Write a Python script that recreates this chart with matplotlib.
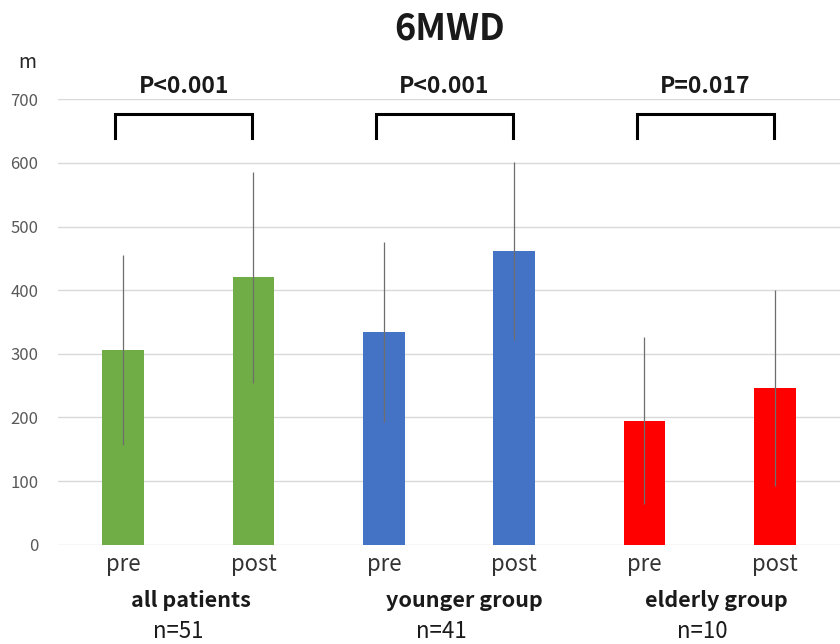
import matplotlib
matplotlib.use('Agg')
from matplotlib import pyplot as plt

# data
labels = ['pre', 'post', 'pre', 'post', 'pre', 'post']
means = [306, 420, 334, 462, 195, 246]
sds = [149, 166, 141, 140, 131, 154]
colors = ['#70AD47', '#70AD47', '#4472C4', '#4472C4', '#FF0000', '#FF0000']
groups = ['all patients', 'younger group', 'elderly group']
ns = ['n=51', 'n=41', 'n=10']
pvals = ['P<0.001', 'P<0.001', 'P=0.017']

plt.rcParams['font.family'] = ['Noto Sans CJK JP', 'DejaVu Sans']

fig = plt.figure(figsize=(8.4, 6.44), dpi=100)
ax = fig.add_axes([0.069, 0.154, 0.931, 0.692])

x = list(range(len(means)))
ax.bar(x, means, width=0.32, color=colors, zorder=3)
ax.errorbar(x, means, yerr=sds, fmt='none', ecolor='#6e6e6e', elinewidth=0.9,
            capsize=0, zorder=4)

ax.set_xlim(-0.5, 5.5)
ax.set_ylim(0, 700)
ax.set_yticks(range(0, 701, 100))
ax.yaxis.grid(True, color='#d9d9d9', lw=1)
ax.set_axisbelow(True)
for s in ax.spines.values():
    s.set_visible(False)
ax.tick_params(axis='y', length=0, labelcolor='#595959', labelsize=12, pad=14)
ax.set_xticks(x)
ax.set_xticklabels(labels, fontsize=16, color='#333333')
ax.tick_params(axis='x', length=0, pad=6)

# brackets with p values
for i, p in enumerate(pvals):
    a = 2 * i - 0.06
    b = 2 * i + 1 - 0.01
    ax.plot([a, a, b, b], [639, 677, 677, 639], color='black', lw=2.2,
            clip_on=False, solid_joinstyle='miter')
    ax.text((a + b) / 2, 720, p, ha='center', va='center', fontsize=16.5,
            fontweight='bold', color='#1a1a1a', clip_on=False)

# group labels below the axis
gx = [0.52, 2.62, 4.55]
nx = [0.42, 2.44, 4.44]
for i in range(3):
    ax.text(gx[i], -88, groups[i], ha='center', va='center', fontsize=15.5,
            fontweight='bold', color='#1a1a1a')
    ax.text(nx[i], -136, ns[i], ha='center', va='center', fontsize=16,
            color='#1a1a1a')

fig.text(0.535, 0.955, '6MWD', ha='center', va='center', fontsize=26,
         fontweight='bold', color='#1a1a1a')
fig.text(0.032, 0.903, 'm', ha='center', va='center', fontsize=14,
         color='#262626')

fig.savefig('out.png', dpi=100)
